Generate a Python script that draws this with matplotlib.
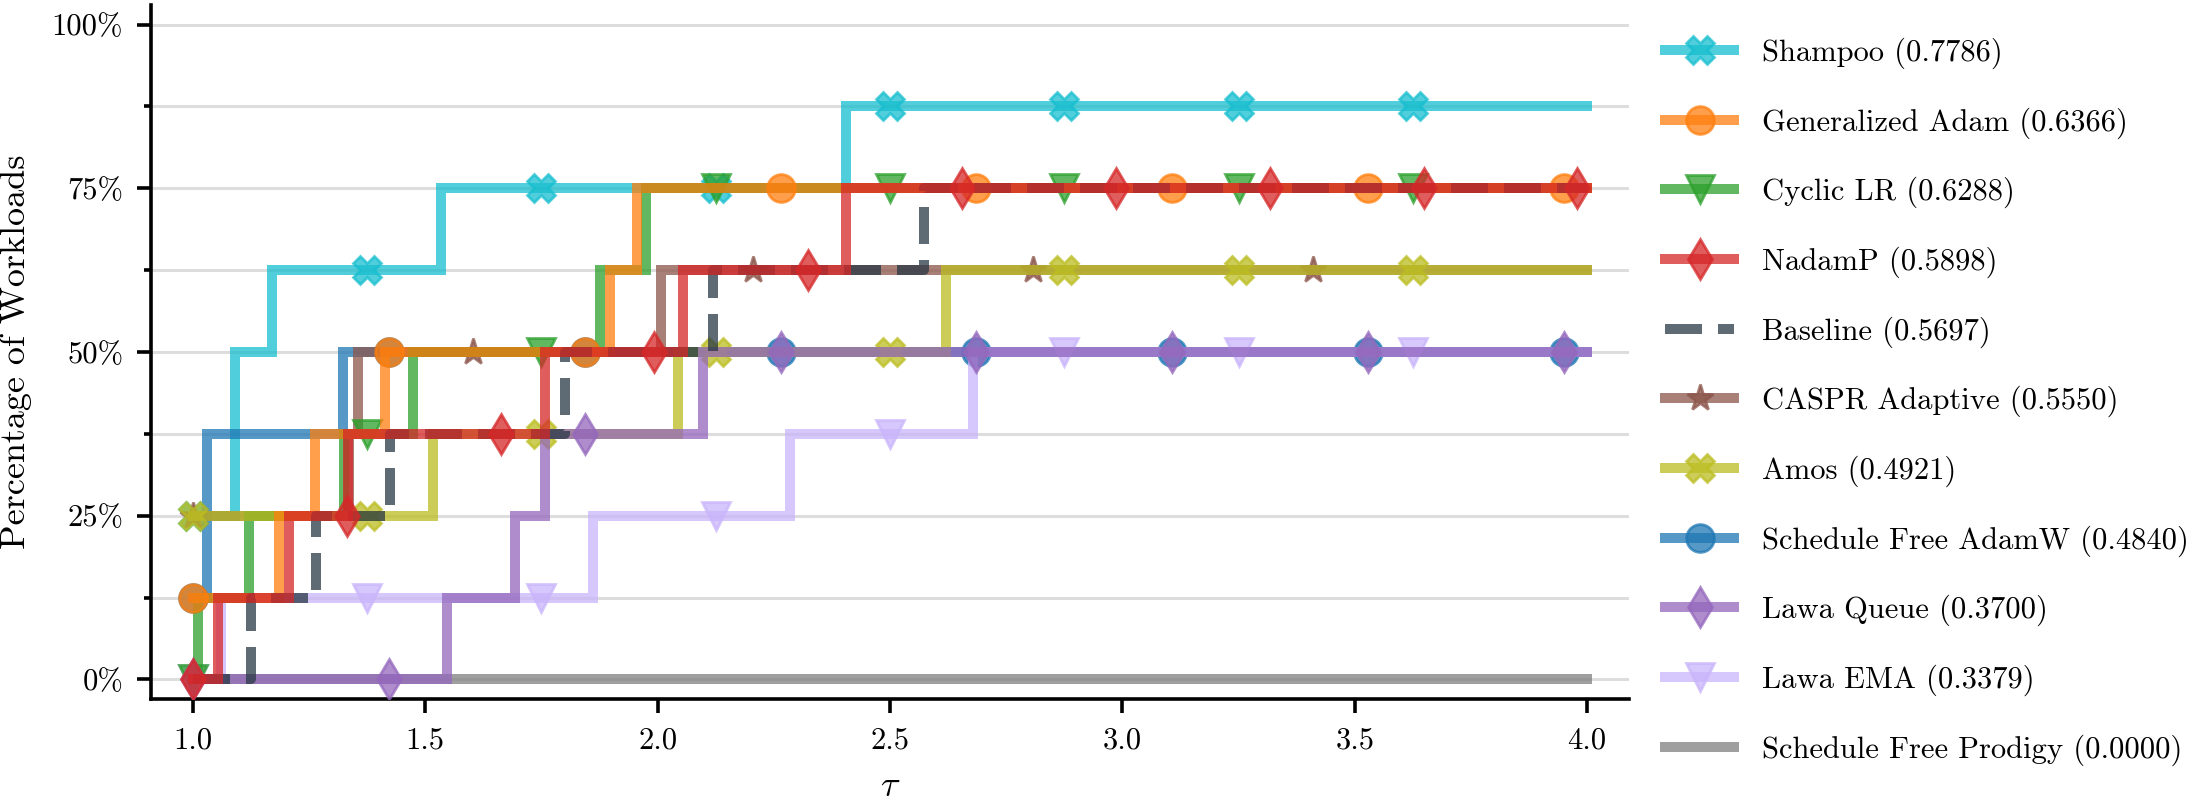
import numpy as np
import matplotlib
matplotlib.use('Agg')
import matplotlib.pyplot as plt
from matplotlib.lines import Line2D
from matplotlib.ticker import MultipleLocator, FuncFormatter

plt.rcParams['font.family'] = 'cmr10'
plt.rcParams['mathtext.fontset'] = 'cm'
plt.rcParams['axes.unicode_minus'] = False

# performance profiles: tau where the curve steps up, and the level (%) from there on
names = ['Shampoo', 'Generalized Adam', 'Cyclic LR', 'NadamP', 'Baseline',
         'CASPR Adaptive', 'Amos', 'Schedule Free AdamW', 'Lawa Queue',
         'Lawa EMA', 'Schedule Free Prodigy']
scores = [0.7786, 0.6366, 0.6288, 0.5898, 0.5697, 0.5550, 0.4921, 0.4840,
          0.3700, 0.3379, 0.0000]

shampoo_tau = [1.0, 1.09, 1.17, 1.535, 2.405, 4.0]
shampoo_pct = [25, 50, 62.5, 75, 87.5, 87.5]
gen_adam_tau = [1.0, 1.186, 1.263, 1.413, 1.897, 1.955, 4.0]
gen_adam_pct = [12.5, 25, 37.5, 50, 62.5, 75, 75]
cyclic_tau = [1.0, 1.012, 1.12, 1.326, 1.473, 1.875, 1.976, 4.0]
cyclic_pct = [0, 12.5, 25, 37.5, 50, 62.5, 75, 75]
nadamp_tau = [1.0, 1.055, 1.206, 1.334, 1.757, 2.054, 2.405, 4.0]
nadamp_pct = [0, 12.5, 25, 37.5, 50, 62.5, 75, 75]
baseline_tau = [1.0, 1.125, 1.266, 1.424, 1.80, 2.12, 2.574, 4.0]
baseline_pct = [0, 12.5, 25, 37.5, 50, 62.5, 75, 75]
caspr_tau = [1.0, 1.335, 1.356, 2.008, 4.0]
caspr_pct = [25, 37.5, 50, 62.5, 62.5]
amos_tau = [1.0, 1.517, 2.043, 2.62, 4.0]
amos_pct = [25, 37.5, 50, 62.5, 62.5]
sf_adamw_tau = [1.0, 1.03, 1.324, 4.0]
sf_adamw_pct = [12.5, 37.5, 50, 50]
lawa_queue_tau = [1.0, 1.546, 1.693, 1.757, 2.097, 4.0]
lawa_queue_pct = [0, 12.5, 25, 37.5, 50, 50]
lawa_ema_tau = [1.0, 1.06, 1.86, 2.284, 2.678, 4.0]
lawa_ema_pct = [0, 12.5, 25, 37.5, 50, 50]
prodigy_tau = [1.0, 4.0]
prodigy_pct = [0, 0]

taus = [shampoo_tau, gen_adam_tau, cyclic_tau, nadamp_tau, baseline_tau, caspr_tau,
        amos_tau, sf_adamw_tau, lawa_queue_tau, lawa_ema_tau, prodigy_tau]
pcts = [shampoo_pct, gen_adam_pct, cyclic_pct, nadamp_pct, baseline_pct, caspr_pct,
        amos_pct, sf_adamw_pct, lawa_queue_pct, lawa_ema_pct, prodigy_pct]

colors = ['#17becf', '#ff7f0e', '#2ca02c', '#d62728', '#293945', '#8c564b',
          '#bcbd22', '#1f77b4', '#9467bd', '#c9b5fb', '#7f7f7f']
markers = ['X', 'o', 'v', 'd', None, '*', 'X', 'o', 'd', 'v', None]
mark_step = [0.375, 0.4215, 0.375, 0.331, None, 0.6025, 0.375, 0.4215, 0.4215, 0.375, None]
styles = ['-', '-', '-', '-', '--', '-', '-', '-', '-', '-', '-']
zorders = [2, 8, 5, 11, 9, 4, 6, 3, 7, 4.5, 1]

LW = 3.6
MS = 10
ALPHA = 0.75

fig = plt.figure(figsize=(2207 / 200, 809 / 200), dpi=200)
ax = fig.add_axes([151 / 2207, 110 / 809, 1478 / 2207, 694 / 809])

handles = []
for i in range(len(names)):
    t = np.array(taus[i])
    p = np.array(pcts[i]) / 100
    ax.plot(t, p, drawstyle='steps-post', color=colors[i], lw=LW, alpha=ALPHA,
            ls=styles[i], zorder=zorders[i], solid_capstyle='projecting',
            dash_capstyle='butt', solid_joinstyle='miter')
    if markers[i] is not None:
        mx = np.arange(1.0, 4.0 - 1e-6, mark_step[i])
        my = p[np.searchsorted(t, mx, side='right') - 1]
        ax.plot(mx, my, ls='none', marker=markers[i], ms=MS, color=colors[i],
                mec=colors[i], alpha=ALPHA, zorder=zorders[i] + 0.01)
    handles.append(Line2D([], [], color=colors[i], lw=LW, ls=styles[i], alpha=ALPHA,
                          marker=markers[i] if markers[i] else 'None', ms=MS,
                          mec=colors[i], dash_capstyle='butt',
                          solid_capstyle='projecting'))

ax.set_xlim(0.91, 4.09)
ax.set_ylim(-0.03, 1.03)
ax.yaxis.set_major_locator(MultipleLocator(0.25))
ax.yaxis.set_minor_locator(MultipleLocator(0.125))
ax.yaxis.set_major_formatter(FuncFormatter(lambda v, pos: f'{v * 100:.0f}%'))
ax.xaxis.set_major_locator(MultipleLocator(0.5))
ax.grid(True, axis='y', which='both', color='#dddddd', lw=1.1, zorder=0)
ax.set_axisbelow(True)

for s in ['top', 'right']:
    ax.spines[s].set_visible(False)
for s in ['left', 'bottom']:
    ax.spines[s].set_linewidth(1.3)
ax.tick_params(which='major', length=5, width=1.3, pad=5, labelsize=11)
ax.tick_params(which='minor', length=2.5, width=1.3)

ax.set_xlabel(r'$\tau$', fontsize=13, labelpad=6)
ax.set_ylabel('Percentage of Workloads', fontsize=13, labelpad=7)

labels = [f'{n} ({s:.4f})' for n, s in zip(names, scores)]
ax.legend(handles, labels, loc='center left', bbox_to_anchor=(1665 / 2207, 1 - 401.5 / 809),
          bbox_transform=fig.transFigure, frameon=False, fontsize=11,
          handlelength=2.26, handletextpad=0.92, labelspacing=1.25,
          borderpad=0, borderaxespad=0)

fig.savefig('out.png', dpi=200)
